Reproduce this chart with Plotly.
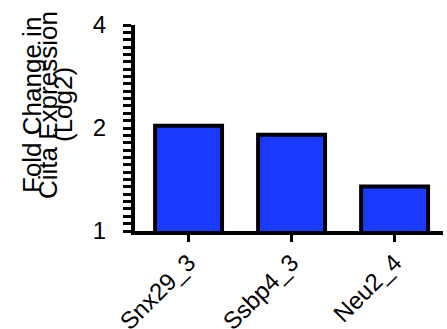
import plotly.graph_objects as go

categories = ["Snx29_3", "Ssbp4_3", "Neu2_4"]
fold_change = [2.03, 1.91, 1.35]
y_label_vals = [1, 2, 4]
y_label_text = ["1", "2", "4"]
title_lines = ["Fold Change in", "Ciita Expression", "(Log2)"]

# tick marks evenly spaced on the log2 axis (14 per doubling)
tick_vals = [2 ** (k / 14) for k in range(0, 29)]
tick_text = [y_label_text[y_label_vals.index(round(v, 6))] if round(v, 6) in y_label_vals else ""
             for v in tick_vals]

fig = go.Figure()
fig.add_trace(go.Bar(
    x=categories, y=fold_change, width=0.65,
    marker=dict(color="#1a3aff", line=dict(color="black", width=4)),
))

W, H = 447, 329
ml, mr, mt, mb = 135, 4, 25, 98
pw, ph = W - ml - mr, H - mt - mb

font = "Liberation Sans, Arial, sans-serif"
fig.update_layout(
    width=W, height=H, margin=dict(l=ml, r=mr, t=mt, b=mb, pad=0),
    paper_bgcolor="white", plot_bgcolor="white", showlegend=False,
    font=dict(family=font, color="black"),
    xaxis=dict(range=[-0.52, 2.47], showline=True, linewidth=4, linecolor="black",
               ticks="outside", ticklen=7, tickwidth=3, tickcolor="black", automargin=False,
               ticklabelstandoff=-3,
               tickangle=-45, tickfont=dict(size=24), showgrid=False, zeroline=False),
    yaxis=dict(type="log", range=[0, 0.60206], showline=True, linewidth=4, linecolor="black",
               tickmode="array", tickvals=tick_vals, ticktext=tick_text, automargin=False,
               ticks="outside", ticklen=8, tickwidth=3, tickcolor="black",
               ticklabelstandoff=12,
               tickfont=dict(size=24), showgrid=False, zeroline=False),
)

line_x = [32, 48, 63]
for txt, px in zip(title_lines, line_x):
    fig.add_annotation(text=txt, textangle=-90, xref="paper", yref="paper",
                       x=(px - ml) / pw, y=(H - mb - 105) / ph,
                       xanchor="center", yanchor="middle", showarrow=False,
                       font=dict(size=26, family=font, color="black"))

fig.write_html("out.html", config={"displayModeBar": False},
               post_script="document.body.style.margin='0';")
